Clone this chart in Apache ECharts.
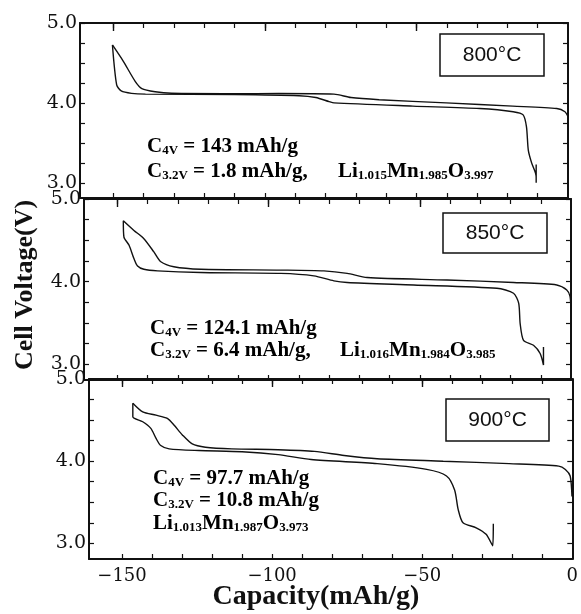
<!DOCTYPE html>
<html>
<head>
<meta charset="utf-8">
<script src="https://cdn.jsdelivr.net/npm/echarts@6/dist/echarts.min.js"></script>
<style>
html, body { margin: 0; padding: 0; background: #fff; }
#chart { width: 581px; height: 614px; }
</style>
</head>
<body>
<div id="chart"></div>
<script>
// axis ranges / ticks
var xMin = -161, xMax = 0;
var yMin = 2.81, yMax = 5.0;
var xTicks = [-150, -140, -130, -120, -110, -100, -90, -80, -70, -60, -50, -40, -30, -20, -10];
var xMajor = [-150, -100, -50];
var xLabels = [-150, -100, -50, 0];
var yTicks = [3, 3.25, 3.5, 3.75, 4, 4.25, 4.5, 4.75, 5];
var yLabels = [3, 4, 5];

// 800 C
var upper800 = [[-150.3, 4.725], [-146.7, 4.52], [-142.8, 4.27], [-140.6, 4.18], [-136.2, 4.14], [-130.8, 4.12],
    [-110, 4.115], [-95.4, 4.117], [-77.2, 4.11], [-71.6, 4.067], [-62.3, 4.04], [-40.2, 4.0], [-18.2, 3.96],
    [-3.7, 3.93], [-1, 3.89], [0, 3.83]];
var lower800 = [[-150.3, 4.725], [-148.9, 4.225], [-147.4, 4.15], [-144, 4.12], [-139.4, 4.11], [-110, 4.105],
    [-88.7, 4.09], [-83.2, 4.067], [-78.8, 4.016], [-77.2, 4.0], [-51.2, 3.96], [-29.1, 3.93], [-18.1, 3.89],
    [-14.8, 3.85], [-13.7, 3.70], [-13.1, 3.41], [-12, 3.25], [-10.7, 3.12], [-10.5, 3.06], [-10.5, 3.0], [-10.5, 3.23]];

// 850 C
var upper850 = [[-148, 4.737], [-144.5, 4.62], [-141.2, 4.52], [-137.9, 4.36], [-135.6, 4.24], [-131.3, 4.18],
    [-122.4, 4.15], [-96, 4.14], [-81.7, 4.13], [-74, 4.10], [-67.4, 4.05], [-41, 4.02], [-19, 3.99],
    [-4.7, 3.96], [-1.4, 3.90], [-0.3, 3.82], [0, 3.6]];
var lower850 = [[-148, 4.737], [-147.8, 4.54], [-146.1, 4.44], [-144.5, 4.28], [-143.3, 4.19], [-141.2, 4.15],
    [-136.7, 4.13], [-122.4, 4.11], [-96, 4.10], [-85, 4.07], [-78.4, 4.01], [-74, 3.99], [-52, 3.96],
    [-24.5, 3.92], [-19, 3.86], [-17.3, 3.74], [-16.8, 3.49], [-15.7, 3.29], [-12.4, 3.23], [-10.2, 3.13],
    [-9.1, 2.99], [-9.1, 3.21]];

// 900 C
var upper900 = [[-146.4, 4.705], [-143.1, 4.60], [-138.7, 4.56], [-134.9, 4.52], [-132.7, 4.44], [-129.9, 4.32],
    [-126.6, 4.21], [-122.2, 4.17], [-113.4, 4.15], [-98, 4.14], [-85.9, 4.12], [-76, 4.07], [-65, 4.03],
    [-43, 4.0], [-21, 3.97], [-4.5, 3.94], [-2.3, 3.90], [-0.7, 3.82], [-0.1, 3.57]];
var lower900 = [[-146.4, 4.705], [-146.4, 4.54], [-143.1, 4.48], [-140.4, 4.40], [-138.7, 4.28], [-137.1, 4.19],
    [-134.3, 4.15], [-124.4, 4.13], [-110, 4.115], [-98, 4.08], [-87, 4.02], [-65, 3.97], [-48.5, 3.90],
    [-41.9, 3.82], [-39.2, 3.65], [-38, 3.41], [-36.4, 3.25], [-32, 3.19], [-28.7, 3.11], [-26.5, 2.97], [-26.3, 3.24]];

var panels = [
    { top: 23, height: 175, left: 80, right: 13, upper: upper800, lower: lower800 },
    { top: 199, height: 181, left: 84, right: 10, upper: upper850, lower: lower850 },
    { top: 379, height: 180, left: 89, right: 4, upper: upper900, lower: lower900 }
];

var ink = '#111';
var serif = 'DejaVu Serif';
var bold = 'Liberation Serif';

function fmtX(v) { return v < 0 ? '\u2212' + Math.abs(v) : String(v); }

var grids = [], xAxes = [], yAxes = [], series = [];
panels.forEach(function (p, i) {
    var last = i === panels.length - 1;
    grids.push({ left: p.left, right: p.right, top: p.top, height: p.height });
    var line = { show: true, onZero: false, lineStyle: { color: ink, width: 2 } };
    xAxes.push({
        gridIndex: i, type: 'value', min: xMin, max: xMax, position: 'bottom',
        axisLine: line,
        axisTick: { show: true, inside: true, length: 5, customValues: xTicks, lineStyle: { color: ink, width: 1.2 } },
        axisLabel: { show: last, customValues: xLabels, margin: 8, fontFamily: serif, fontSize: 18, color: ink, formatter: fmtX },
        splitLine: { show: false }
    });
    xAxes.push({
        gridIndex: i, type: 'value', min: xMin, max: xMax, position: 'top',
        axisLine: line,
        axisTick: { show: true, inside: true, length: 5, customValues: xTicks, lineStyle: { color: ink, width: 1.2 } },
        axisLabel: { show: false }, splitLine: { show: false }
    });
    xAxes.push({
        gridIndex: i, type: 'value', min: xMin, max: xMax, position: 'top',
        axisLine: { show: false },
        axisTick: { show: true, inside: true, length: 8, customValues: xMajor, lineStyle: { color: ink, width: 1.4 } },
        axisLabel: { show: false }, splitLine: { show: false }
    });
    yAxes.push({
        gridIndex: i, type: 'value', min: yMin, max: yMax, position: 'left',
        axisLine: line,
        axisTick: { show: true, inside: true, length: 5, customValues: yTicks, lineStyle: { color: ink, width: 1.2 } },
        axisLabel: { customValues: yLabels, margin: 3, fontFamily: serif, fontSize: 19, color: ink,
            formatter: function (v) { return v.toFixed(1); } },
        splitLine: { show: false }
    });
    yAxes.push({
        gridIndex: i, type: 'value', min: yMin, max: yMax, position: 'right',
        axisLine: line,
        axisTick: { show: true, inside: true, length: 5, customValues: yTicks, lineStyle: { color: ink, width: 1.2 } },
        axisLabel: { show: false }, splitLine: { show: false }
    });
    [p.upper, p.lower].forEach(function (d) {
        series.push({
            type: 'line', xAxisIndex: 3 * i, yAxisIndex: 2 * i, data: d,
            showSymbol: false, silent: true, smooth: 0.25,
            lineStyle: { color: ink, width: 1.4 }
        });
    });
});

var rich = {
    b: { fontFamily: bold, fontWeight: 'bold', fontSize: 21, color: ink, lineHeight: 24, verticalAlign: 'bottom' },
    s: { fontFamily: bold, fontWeight: 'bold', fontSize: 13, color: ink, lineHeight: 4, verticalAlign: 'bottom' }
};
function note(x, y, txt) {
    return { type: 'text', left: x, top: y - 12, silent: true,
        style: { text: txt, rich: rich } };
}
function tag(x, y, w, h, txt) {
    return [
        { type: 'rect', shape: { x: x, y: y, width: w, height: h }, silent: true,
          style: { fill: '#fff', stroke: ink, lineWidth: 1.5 } },
        { type: 'text', x: x + w / 2, y: y + h / 2, silent: true,
          style: { text: txt, fontFamily: 'Liberation Sans', fontSize: 21, fill: ink, align: 'center', verticalAlign: 'middle' } }
    ];
}

var graphics = [].concat(
    tag(440, 34, 104, 42, '800°C'),
    tag(443, 213, 104, 40, '850°C'),
    tag(446, 399, 103, 42, '900°C'),
    [
        note(147, 148, '{b|C}{s|4V}{b| = 143 mAh/g}'),
        note(147, 173, '{b|C}{s|3.2V}{b| = 1.8 mAh/g,}'),
        note(338, 173, '{b|Li}{s|1.015}{b|Mn}{s|1.985}{b|O}{s|3.997}'),
        note(150, 330, '{b|C}{s|4V}{b| = 124.1 mAh/g}'),
        note(150, 352, '{b|C}{s|3.2V}{b| = 6.4 mAh/g,}'),
        note(340, 352, '{b|Li}{s|1.016}{b|Mn}{s|1.984}{b|O}{s|3.985}'),
        note(153, 480, '{b|C}{s|4V}{b| = 97.7 mAh/g}'),
        note(153, 502, '{b|C}{s|3.2V}{b| = 10.8 mAh/g}'),
        note(153, 525, '{b|Li}{s|1.013}{b|Mn}{s|1.987}{b|O}{s|3.973}'),
        { type: 'text', x: 25, y: 285, rotation: Math.PI / 2, silent: true,
          style: { text: 'Cell Voltage(V)', fontFamily: bold, fontWeight: 'bold', fontSize: 26, fill: ink,
                   align: 'center', verticalAlign: 'middle' } },
        { type: 'text', x: 316, y: 597, silent: true,
          style: { text: 'Capacity(mAh/g)', fontFamily: bold, fontWeight: 'bold', fontSize: 28, fill: ink,
                   align: 'center', verticalAlign: 'middle' } }
    ]
);

var chart = echarts.init(document.getElementById('chart'));
chart.setOption({
    animation: false,
    backgroundColor: '#fff',
    grid: grids,
    xAxis: xAxes,
    yAxis: yAxes,
    series: series,
    graphic: graphics
});
</script>
</body>
</html>
